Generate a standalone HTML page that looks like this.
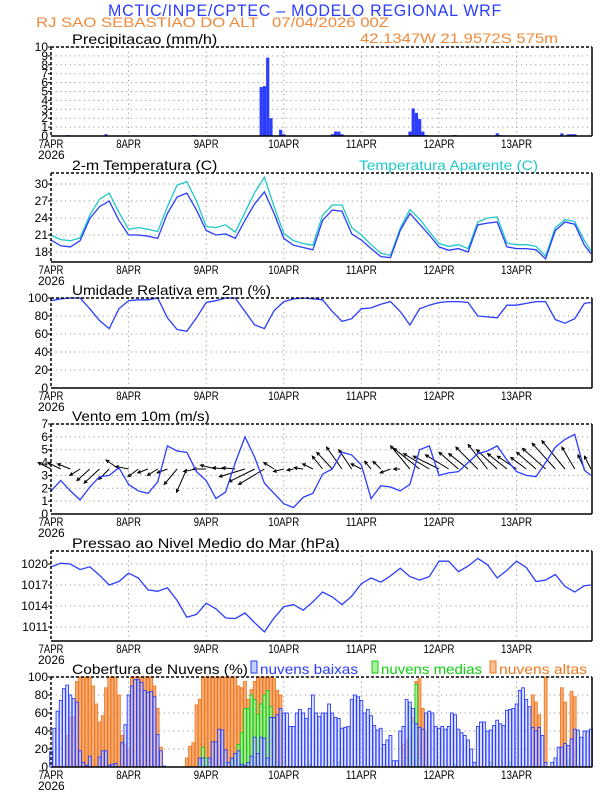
<!DOCTYPE html>
<html><head><meta charset="utf-8"><style>
html,body{margin:0;padding:0;background:#fff;}
svg{display:block;font-family:"Liberation Sans",sans-serif;}
</style></head><body>
<svg id="chart" width="612" height="792" viewBox="0 0 612 792" xmlns="http://www.w3.org/2000/svg">
<text x="108" y="16" font-size="17" fill="#2a3cff" style="letter-spacing:0.8px" textLength="394" lengthAdjust="spacingAndGlyphs">MCTIC/INPE/CPTEC – MODELO REGIONAL WRF</text>
<text x="36" y="27" font-size="14" fill="#f08a3a" style="white-space:pre" textLength="353" lengthAdjust="spacingAndGlyphs">RJ SAO SEBASTIAO DO ALT   07/04/2026 00Z</text>
<text x="360" y="43" font-size="14" fill="#f08a3a" textLength="198" lengthAdjust="spacingAndGlyphs">42.1347W 21.9572S 575m</text>
<g id="layer"></g>
</svg>
<script>
// ---- data ----
const dayLabels = ["7APR","8APR","9APR","10APR","11APR","12APR","13APR"];
const hours3 = [0,3,6,9,12,15,18,21,24,27,30,33,36,39,42,45,48,51,54,57,60,63,66,69,72,75,78,81,84,87,90,93,96,99,102,105,108,111,114,117,120,123,126,129,132,135,138,141,144,147,150,153,156,159,162,165,167];
const precipHours = [5,17,44,65,66,67,68,71,72,87,88,89,90,111,112,113,114,115,116,125,138,139,158,160,161,162];
const precipVals = [0.1,0.2,0.1,5.5,5.6,8.8,2.0,0.7,0.2,0.2,0.5,0.5,0.2,0.5,3.1,2.6,1.9,0.5,0.1,0.1,0.3,0.1,0.3,0.2,0.2,0.2];
const temp = [20.1,19.1,18.9,20.0,23.9,26.0,27.0,23.6, 21.0,21.0,20.8,20.4,24.8,27.7,28.4,25.4, 21.8,21.0,21.2,20.4,23.6,26.5,28.6,24.8, 20.4,19.2,18.8,18.4,23.6,25.4,25.2,21.2, 20.1,18.6,17.2,17.0,21.8,24.8,22.9,21.0, 18.9,18.3,18.6,18.0,22.8,23.1,23.3,18.9, 18.6,18.6,18.4,16.8,21.8,23.3,22.9,19.2, 17.7];
const tempApparent = [21,20.2,20,20.5,24.5,27.3,28.4,25, 22,22.3,22,21.6,26,29.8,30.4,27, 22.5,22.3,22.8,21.5,25,28.5,31.2,26, 21.3,20,19.5,19.2,24.5,26.3,26.3,22.3, 21,19.3,17.8,17.4,22.2,25.5,23.8,21.6, 19.5,19,19.3,18.6,23.3,24,24.2,19.6, 19.3,19.3,19,17.3,22.3,23.7,23.4,20, 18.2];
const humidity = [97,99,100,100,88,75,66,88, 97,98,98,100,78,65,63,78, 95,97,100,100,85,70,66,86, 96,99,100,99,98,85,74,77, 88,89,93,96,85,70,88,92, 95,96,96,95,80,79,78,92, 92,94,96,96,76,72,77,94, 95];
const windSpeed = [1.8,2.6,1.8,1.1,2.1,2.9,3.0,3.6, 2.3,1.8,1.6,2.5,5.3,4.9,4.8,3.3, 2.6,1.2,1.7,4.0,6.0,4.4,2.4,1.6, 0.8,0.5,1.3,1.6,3.1,3.5,4.8,4.6, 3.8,1.2,2.2,2.1,1.8,2.3,5.0,5.3, 3.0,3.2,3.3,4.0,4.7,4.9,5.3,4.2, 3.3,3.0,2.9,4.0,5.2,5.8,6.2,3.4, 3.0];
const windU = [-1,-1,-1,-0.8,-1,-1.2,-0.8,-1, -1,-0.8,-0.8,-0.8,-0.8,-1,-0.8,-1, -1,-1.2,-1,-1,-2,-2,-2,-0.8, -0.8,-0.5,-0.7,-0.8,-0.8,-1.2,-1.2,-1, -0.8,-0.5,-0.6,-0.8,-0.5,-1.5,-2,-2, -2,-1.8,-1.5,-1.5,-1.7,-1.5,-1.6,-1.5, -1.5,-1.2,-1.5,-1.8,-1.8,-1.8,-1,-0.5, -0.5];
const windV = [0.5,0.5,0.4,-0.5,-0.9,-1.1,-0.8,0.7, 0.2,-0.6,-0.3,-0.5,-0.3,-1.2,-1.8,-0.2, 0,0.3,0.1,0.1,-0.6,-1.0,-1.2,0.5, -0.2,-0.1,0.1,0.4,1.0,1.3,1.7,1.5, 0.4,0.6,0.6,-0.3,0,1.8,1.6,1.2, 1.0,1.1,1.3,1.2,1.7,1.9,1.5,1.2, 1.0,0.9,1.3,1.6,2.0,2.2,1.7,1.1, 1.0];
const pressure = [1019.6,1020.1,1020.0,1019.2,1019.6,1018.4,1017.0,1017.5, 1018.7,1018.0,1016.3,1016.1,1016.6,1014.8,1012.4,1012.8, 1014.4,1013.6,1012.3,1012.2,1013.0,1011.6,1010.3,1012.3, 1013.9,1014.2,1013.4,1014.6,1016.0,1015.3,1014.2,1015.4, 1017.2,1018.0,1017.4,1018.3,1019.4,1018.2,1017.7,1018.2, 1020.4,1020.4,1018.9,1019.7,1020.8,1019.9,1018.0,1019.1, 1020.4,1019.5,1017.5,1017.7,1018.5,1016.8,1016.0,1016.9, 1017.0];
const cloudLow = [17,43,62,74,87,91,80,76,72,18, 5,2,12,0,0,11,18,18,2,3, 4,0,27,47,80,90,97,97,94,85, 83,84,78,36,18,1,0,0,0,0, 0,0,0,0,0,0,10,10,0,10, 28,28,42,41,19,5,10,15,18,3, 2,5,12,33,15,33,32,10,55,55, 58,65,60,60,45,45,60,64,60,54, 65,80,60,56,60,60,70,60,55,54, 43,44,45,75,80,78,74,60,64,57, 46,41,43,25,30,35,7,7,40,45, 75,72,65,48,44,42,60,62,60,45, 43,45,42,45,60,58,42,38,35,30, 20,5,45,50,50,40,41,46,52,48, 46,63,64,65,70,85,88,75,67,44, 40,44,35,5,0,5,10,22,22,26, 24,31,42,41,33,40,40,42];
const cloudMid = [0,0,0,0,0,0,0,0,0,0, 0,0,0,0,0,0,0,0,0,0, 0,0,0,0,0,0,0,0,0,0, 0,0,0,0,0,0,0,0,0,0, 0,0,0,0,0,0,5,22,10,5, 0,0,0,0,5,0,8,15,25,38, 65,65,80,75,58,70,80,85,67,55, 5,0,0,0,0,0,0,0,0,0, 3,0,0,0,0,0,0,0,0,5, 0,0,0,0,0,0,0,0,0,0, 0,0,0,0,0,0,0,0,0,0, 10,67,50,92,10,0,0,0,0,0, 0,0,0,0,0,3,0,0,0,0, 0,0,0,0,0,0,5,0,0,0, 0,0,5,0,0,0,0,0,0,0, 0,0,0,0,0,0,0,0,0,0, 8,0,0,0,0,0,0,0];
const cloudHigh = [0,0,0,0,0,35,55,56,95,100, 100,100,100,90,70,50,57,88,100,100, 100,80,35,25,20,100,100,100,100,100, 100,100,90,65,22,0,0,0,0,0, 0,0,10,23,27,69,75,100,100,100, 100,100,100,100,100,100,100,100,90,88, 95,75,86,95,100,100,100,100,100,98, 85,80,0,0,0,0,0,0,0,0, 0,0,0,0,0,0,0,0,0,0, 0,0,0,0,0,0,0,0,0,0, 0,0,0,0,0,0,0,0,0,25, 30,35,55,95,98,65,40,0,0,0, 0,0,0,0,0,0,0,0,0,0, 0,0,0,0,0,0,0,0,0,0, 0,0,0,0,0,0,0,0,0,80, 72,58,0,100,0,0,0,0,88,72, 0,84,78,0,0,0,0,0];
const precipTicks = [0,1,2,3,4,5,6,7,8,9,10];
const tempTicks = [18,21,24,27,30];
const rhTicks = [0,20,40,60,80,100];
const windTicks = [0,1,2,3,4,5,6,7];
const presTicks = [1011,1014,1017,1020];
const cloudTicks = [0,20,40,60,80,100];

// ---- layout ----
const NS = "http://www.w3.org/2000/svg";
const layer = document.getElementById("layer");
const X0 = 51, X1 = 592, HPX = 3.233;
function xh(h){ return X0 + h*HPX; }
function mk(tag, attrs, parent){
  const e = document.createElementNS(NS, tag);
  for (const k in attrs) e.setAttribute(k, attrs[k]);
  (parent||layer).appendChild(e);
  return e;
}
function yScale(p){ return v => p.bottom - (v - p.min)/(p.max - p.min)*(p.bottom - p.top); }

function panel(name, p, ticks, title, tickFmt){
  const g = mk("g", {});
  
  
  const y = yScale(p);
  for (let d=1; d<7; d++){
    const gl = mk("line", {x1:xh(d*24), x2:xh(d*24), y1:p.top, y2:p.bottom, stroke:"#999", "stroke-dasharray":"1.2,3.5", "stroke-width":"1"}, g);
    
    
  }
  ticks.forEach(t => {
    if (t === p.min) return;
    const gl = mk("line", {x1:X0, x2:X1, y1:y(t), y2:y(t), stroke:"#999", "stroke-dasharray":"1.2,3.5", "stroke-width":"1"}, g);
    
    
    const tk = mk("line", {x1:X0-3, x2:X0, y1:y(t), y2:y(t), stroke:"#000"}, g);
    
    
  });
  ticks.forEach(t => {
    const tl = mk("text", {x:X0-3, y:y(t)+4, "font-size":"12", "text-anchor":"end", fill:"#000"}, g);
    tl.textContent = tickFmt ? tickFmt(t) : t;
    
    
  });
  dayLabels.forEach((lab, i) => {
    const tl = mk("text", {x:xh(i*24), y:p.bottom+12, "font-size":"12", "text-anchor":"middle", fill:"#000", textLength: lab.length*6.2, lengthAdjust:"spacingAndGlyphs"}, g);
    tl.textContent = lab;
    
    
  });
  const yr = mk("text", {x:38, y:p.bottom+23, "font-size":"12", fill:"#000"}, g);
  yr.textContent = "2026";
  
  
  const tt = mk("text", {x:72, y:p.top-3, "font-size":"14", fill:"#000", textLength:title.length*7.65, lengthAdjust:"spacingAndGlyphs"}, g);
  tt.textContent = title;
  
  
  const plot = mk("g", {}, g);
  
  
  return {g, plot, y};
}
function frame(p, g){
  const f = mk("g", {}, g);
  
  
  mk("line", {x1:X0, x2:X1, y1:p.top, y2:p.top, stroke:"#000", "stroke-width":"1.5", "stroke-dasharray":"3,2"}, f);
  mk("line", {x1:X0, x2:X0, y1:p.top, y2:p.bottom, stroke:"#000", "stroke-width":"1.5", "stroke-dasharray":"3,2"}, f);
  mk("line", {x1:X1, x2:X1, y1:p.top, y2:p.bottom, stroke:"#000", "stroke-width":"1.5"}, f);
  mk("line", {x1:X0, x2:X1, y1:p.bottom, y2:p.bottom, stroke:"#000", "stroke-width":"1.5"}, f);
}
function linePath(hs, vals, y, color, parent, name){
  let d = "";
  vals.forEach((v,i) => { d += (i?"L":"M") + xh(hs[i]).toFixed(1) + "," + y(v).toFixed(1); });
  const pth = mk("path", {d, fill:"none", stroke:color, "stroke-width":"1.3"}, parent);
  
  
}

const P1 = {top:47, bottom:136, min:0, max:10};
const a = panel("precipitation", P1, precipTicks, "Precipitacao (mm/h)");
precipVals.forEach((v,i) => {
  const yy = a.y(v);
  const b = mk("rect", {x:xh(precipHours[i])-1.5, y:yy, width:3.2, height:P1.bottom-yy, fill:"#2a3cff"}, a.plot);
  
  
});
frame(P1, a.g);

const P2 = {top:173, bottom:262, min:16.24, max:31.94};
const b2 = panel("temperature", P2, tempTicks, "2-m Temperatura (C)");
linePath(hours3, tempApparent, b2.y, "#20c8c8", b2.plot, "apparent-temperature-line");
linePath(hours3, temp, b2.y, "#2a3cff", b2.plot, "temperature-line");
const at = mk("text", {x:359, y:170, "font-size":"14", fill:"#20c8c8", textLength:179, lengthAdjust:"spacingAndGlyphs"}, b2.g);
at.textContent = "Temperatura Aparente (C)";


frame(P2, b2.g);

const P3 = {top:298, bottom:388, min:0, max:100};
const c3 = panel("humidity", P3, rhTicks, "Umidade Relativa em 2m (%)");
linePath(hours3, humidity, c3.y, "#2a3cff", c3.plot, "humidity-line");
frame(P3, c3.g);

const P4 = {top:424, bottom:514, min:0, max:7};
const d4 = panel("wind", P4, windTicks, "Vento em 10m (m/s)");
const base = 3.5, k = (P4.bottom-P4.top)/7;
windU.forEach((u,i) => {
  const x1 = xh(hours3[i]), y1 = d4.y(base);
  const x2 = x1 + u*k, y2 = y1 - windV[i]*k;
  const ang = Math.atan2(y2-y1, x2-x1);
  const hx1 = x2 - 3.5*Math.cos(ang-0.45), hy1 = y2 - 3.5*Math.sin(ang-0.45);
  const hx2 = x2 - 3.5*Math.cos(ang+0.45), hy2 = y2 - 3.5*Math.sin(ang+0.45);
  const ar = mk("path", {d:`M${x1},${y1}L${x2},${y2}M${hx1},${hy1}L${x2},${y2}L${hx2},${hy2}`, stroke:"#000", fill:"none", "stroke-width":"1"}, d4.plot);
  
  
});
linePath(hours3, windSpeed, d4.y, "#2a3cff", d4.plot, "wind-speed-line");
frame(P4, d4.g);

const P5 = {top:551, bottom:641, min:1009, max:1021.86};
const e5 = panel("pressure", P5, presTicks, "Pressao ao Nivel Medio do Mar (hPa)");
linePath(hours3, pressure, e5.y, "#2a3cff", e5.plot, "pressure-line");
frame(P5, e5.g);

const P6 = {top:677, bottom:767, min:0, max:100};
const f6 = panel("cloud-cover", P6, cloudTicks, "Cobertura de Nuvens (%)");
function cloudBars(vals, fill, stroke, name, op){
  vals.forEach((v,h) => {
    if (v <= 0) return;
    const yy = f6.y(v);
    const r = mk("rect", {x:xh(h)-1.4, y:yy, width:2.8, height:P6.bottom-yy, fill, "fill-opacity":op, stroke, "stroke-width":"0.9"}, f6.plot);
    
    
  });
}
cloudBars(cloudHigh, "#f5a060", "#f07820", "high-cloud-bar", "0.85");
cloudBars(cloudMid, "#a8f0a0", "#10d010", "mid-cloud-bar", "0.8");
cloudBars(cloudLow, "#c8d0ff", "#2a3cff", "low-cloud-bar", "0.55");
const legends = [["nuvens baixas","#2a3cff","#c8d0ff",251,107],["nuvens medias","#10d010","#a8f0a0",372,110],["nuvens altas","#f07820","#f5c090",490,97]];
legends.forEach(l => {
  const lg = mk("g", {}, f6.g);
  
  
  mk("rect", {x:l[3], y:P6.top-16, width:6, height:12, fill:l[2], stroke:l[1], "stroke-width":"1"}, lg);
  const t = mk("text", {x:l[3]+9, y:P6.top-3, "font-size":"14", fill:l[1], textLength:l[4]-9, lengthAdjust:"spacingAndGlyphs"}, lg);
  t.textContent = l[0];
});
frame(P6, f6.g);
</script>
</body></html>
